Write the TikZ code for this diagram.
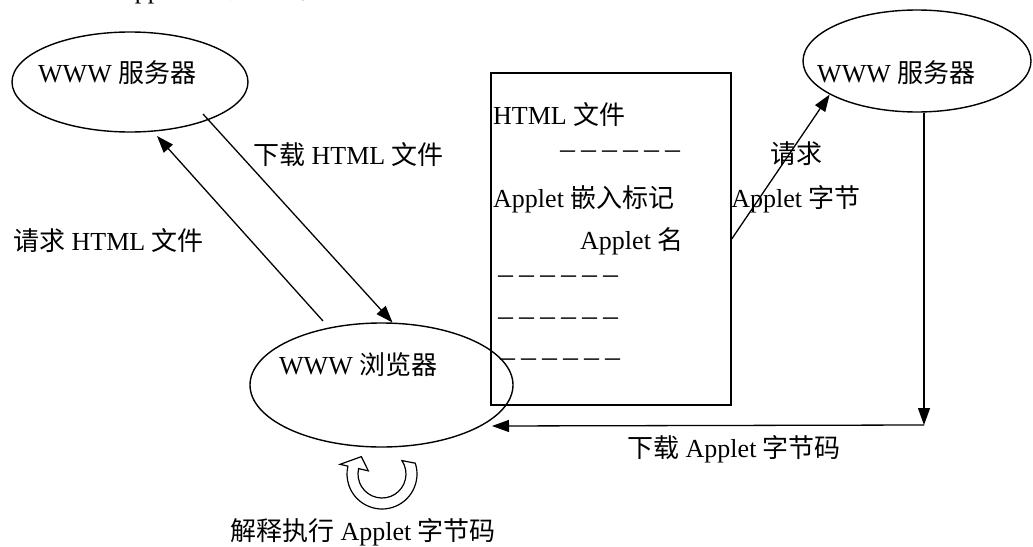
\documentclass[tikz,border=0pt]{standalone}
\usepackage{fontspec}
\setmainfont{Liberation Serif}
\newfontfamily\cjk{Noto Sans CJK SC}
\newcommand{\zh}[1]{{\cjk #1}}
\usetikzlibrary{arrows.meta,shapes.geometric}

\begin{document}
\begin{tikzpicture}[x=1pt,y=-1pt,
  every node/.style={inner sep=0pt, font=\fontsize{26}{30}\selectfont},
  lbl/.style={anchor=base west},
  oval/.style={draw, ellipse, line width=1.4pt},
  doctile/.style={draw, rectangle, line width=1.4pt},
  dashrow/.style={anchor=west, font=\fontsize{21}{24}\selectfont\cjk},
  link/.style={line width=1.3pt, -{Triangle[length=17pt,width=12pt]}},
  band/.style={draw, line width=1.2pt, fill=white, line join=miter}]

% canvas
\path[fill=white, use as bounding box] (0,0) rectangle (1033,546);
\clip (0,0) rectangle (1033,546);

% caption above the figure
\node[lbl] (caption) at (116,-1.5) {Applet \zh{的下载执行过程}};

% servers and browser
\node[oval, minimum width=236pt, minimum height=100pt] (srvL) at (130,82) {};
\node[lbl] (srvLtxt) at (38,82) {WWW \zh{服务器}};

\node[oval, minimum width=228pt, minimum height=102pt] (srvR) at (917,61) {};
\node[lbl] (srvRtxt) at (817,82) {WWW \zh{服务器}};

\node[oval, minimum width=263pt, minimum height=124pt] (brw) at (381.5,385) {};
\node[lbl] (brwtxt) at (279,374) {WWW \zh{浏览器}};

% HTML document
\node[doctile, minimum width=240pt, minimum height=332pt] (doc) at (611,239) {};
\node[lbl] (docTitle) at (493,124) {HTML \zh{文件}};
\node[dashrow] (dash1) at (557,155) {－－－－－－};
\node[lbl] (tag) at (493,207) {Applet \zh{嵌入标记}};
\node[lbl] (aname) at (580,249) {Applet \zh{名}};
\node[dashrow] (dash2) at (495,280) {－－－－－－};
\node[dashrow] (dash3) at (495,322) {－－－－－－};
\node[dashrow] (dash4) at (497,363) {－－－－－－};

% connector end points
\coordinate (dlFrom) at (203,114);
\coordinate (reqFrom) at (323,321);
\coordinate (reqTo) at (157,136);
\coordinate (turn) at (924,425);
\coordinate (brwIn) at (492,426);

% HTML exchange
\draw[link] (dlFrom) -- (brw.80);
\node[lbl] (lblDlHtml) at (253,164) {\zh{下载} HTML \zh{文件}};
\draw[link] (reqFrom) -- (reqTo);
\node[lbl] (lblReqHtml) at (13,250) {\zh{请求} HTML \zh{文件}};

% Applet exchange
\draw[link] (doc.east) -- (srvR.201);
\node[align=center, font=\fontsize{26}{44}\selectfont] (lblReqApplet) at (796,177)
  {\zh{请求}\\Applet \zh{字节}};
\draw[link] (srvR.south -| turn) -- (turn);
\draw[link] (turn) -- (brwIn);
\node[lbl] (lblDlApplet) at (627,457) {\zh{下载} Applet \zh{字节码}};

% local execution loop
\coordinate (rot) at (382,474);
\draw[band] ([shift={(-18:35)}]rot) arc[start angle=-18, end angle=193, radius=35]
  -- ([shift={(193:43)}]rot) -- ([shift={(220:27)}]rot)
  -- ([shift={(193:14)}]rot) -- ([shift={(193:24)}]rot)
  arc[start angle=193, end angle=-34, radius=24] -- cycle;
\node[lbl] (lblRun) at (230,540) {\zh{解释执行} Applet \zh{字节码}};
\end{tikzpicture}
\end{document}
